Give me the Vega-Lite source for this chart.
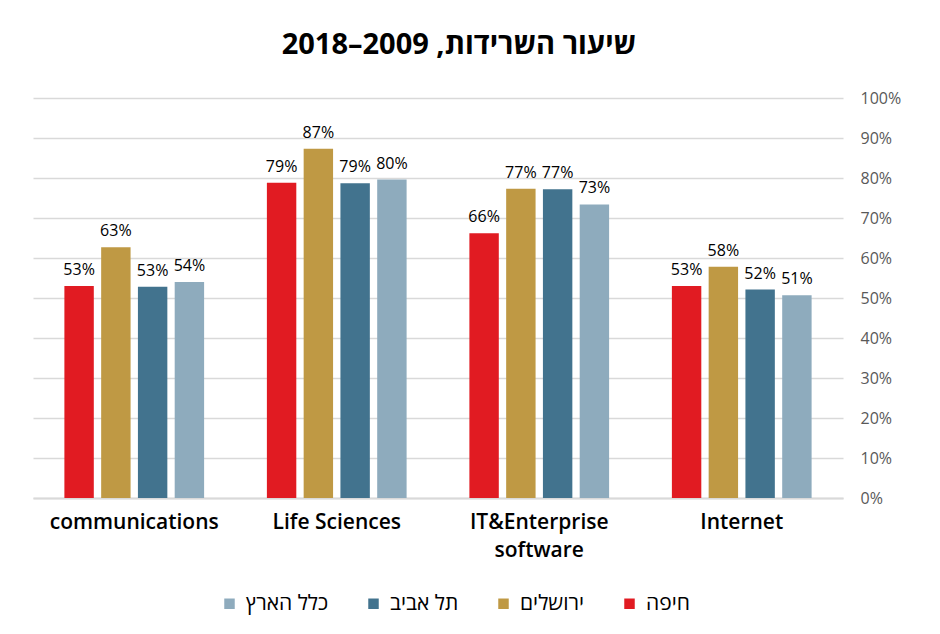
{
  "$schema": "https://vega.github.io/schema/vega-lite/v6.json",
  "width": 810,
  "height": 400,
  "autosize": {"type": "none"},
  "padding": {"left": 33, "top": 98, "right": 97, "bottom": 136},
  "background": "white",
  "title": {
    "text": "\u202Bשיעור השרידות, 2009–2018\u202C",
    "fontSize": 29,
    "font": "Open Sans",
    "fontWeight": "bold",
    "color": "#000000",
    "anchor": "middle",
    "frame": "group",
    "dx": 21,
    "offset": 30
  },
  "data": {
    "values": [
      {"sector": "communications", "region": "חיפה", "rate": 0.53},
      {"sector": "communications", "region": "ירושלים", "rate": 0.627},
      {"sector": "communications", "region": "תל אביב", "rate": 0.528},
      {"sector": "communications", "region": "כלל הארץ", "rate": 0.54},
      {"sector": "Life Sciences", "region": "חיפה", "rate": 0.788},
      {"sector": "Life Sciences", "region": "ירושלים", "rate": 0.873},
      {"sector": "Life Sciences", "region": "תל אביב", "rate": 0.787},
      {"sector": "Life Sciences", "region": "כלל הארץ", "rate": 0.796},
      {"sector": "IT&Enterprise software", "region": "חיפה", "rate": 0.662},
      {"sector": "IT&Enterprise software", "region": "ירושלים", "rate": 0.773},
      {"sector": "IT&Enterprise software", "region": "תל אביב", "rate": 0.772},
      {"sector": "IT&Enterprise software", "region": "כלל הארץ", "rate": 0.734},
      {"sector": "Internet", "region": "חיפה", "rate": 0.53},
      {"sector": "Internet", "region": "ירושלים", "rate": 0.578},
      {"sector": "Internet", "region": "תל אביב", "rate": 0.521},
      {"sector": "Internet", "region": "כלל הארץ", "rate": 0.507}
    ]
  },
  "encoding": {
    "x": {
      "field": "sector",
      "type": "nominal",
      "sort": ["communications", "Life Sciences", "IT&Enterprise software", "Internet"],
      "scale": {"paddingInner": 0.31, "paddingOuter": 0.155},
      "axis": {
        "title": null,
        "labelAngle": 0,
        "labelFontSize": 21,
        "labelFont": "Open Sans",
        "labelFontWeight": 600,
        "labelColor": "#000000",
        "labelPadding": 13,
        "labelLineHeight": 28,
        "ticks": false,
        "domain": true,
        "domainColor": "#d9d9d9",
        "domainWidth": 2,
        "grid": false,
        "labelExpr": "datum.label == 'IT&Enterprise software' ? ['IT&Enterprise', 'software'] : datum.label"
      }
    },
    "xOffset": {
      "field": "region",
      "type": "nominal",
      "sort": ["חיפה", "ירושלים", "תל אביב", "כלל הארץ"],
      "scale": {"paddingInner": 0.2, "paddingOuter": 0}
    },
    "y": {
      "field": "rate",
      "type": "quantitative",
      "scale": {"domain": [0, 1]},
      "axis": {
        "title": null,
        "orient": "right",
        "values": [0, 0.1, 0.2, 0.3, 0.4, 0.5, 0.6, 0.7, 0.8, 0.9, 1],
        "format": ".0%",
        "domain": false,
        "ticks": false,
        "grid": true,
        "gridColor": "#d9d9d9",
        "gridWidth": 1.5,
        "labelColor": "#595959",
        "labelFontSize": 16,
        "labelFont": "Open Sans",
        "labelPadding": 17
      }
    }
  },
  "layer": [
    {
      "mark": {"type": "bar"},
      "encoding": {
        "color": {
          "field": "region",
          "type": "nominal",
          "scale": {
            "domain": ["כלל הארץ", "תל אביב", "ירושלים", "חיפה"],
            "range": ["#8EABBD", "#42738E", "#BF9944", "#E11B22"]
          },
          "legend": {
            "orient": "none",
            "legendX": 186,
            "legendY": 495,
            "direction": "horizontal",
            "columns": 4,
            "title": null,
            "symbolType": "square",
            "symbolSize": 110,
            "symbolStrokeWidth": 0,
            "labelFontSize": 21,
            "labelFont": "Open Sans",
            "labelColor": "#000000",
            "columnPadding": 34,
            "labelOffset": 6
          }
        }
      }
    },
    {
      "mark": {"type": "text", "baseline": "alphabetic", "dy": -11, "fontSize": 16, "font": "Open Sans", "color": "#000000"},
      "encoding": {
        "text": {"field": "rate", "type": "quantitative", "format": ".0%"}
      }
    }
  ],
  "config": {
    "view": {"stroke": null}
  }
}
